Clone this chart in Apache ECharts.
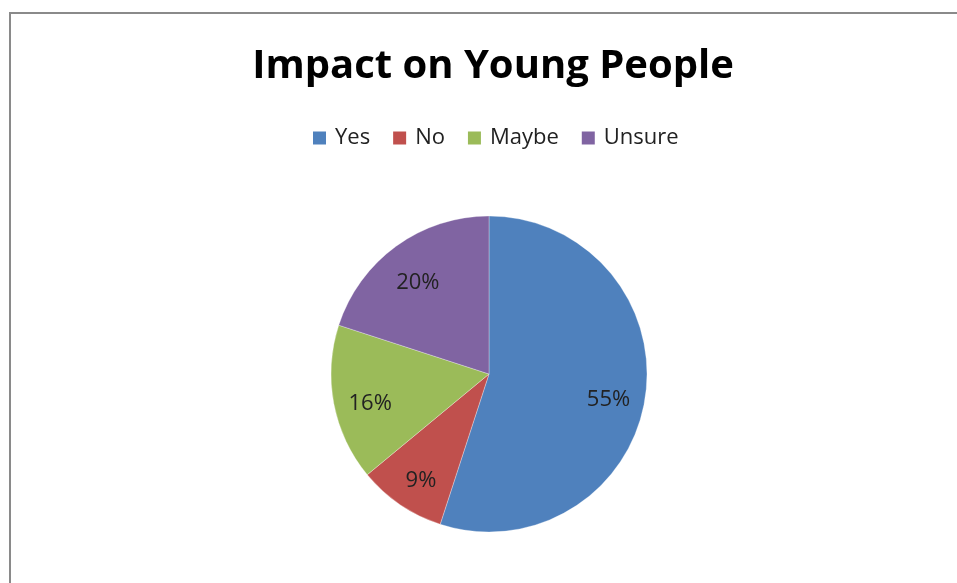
<!DOCTYPE html>
<html>
<head>
<meta charset="utf-8">
<script src="https://cdn.jsdelivr.net/npm/echarts@6/dist/echarts.min.js"></script>
<style>
html,body{margin:0;padding:0;background:#fff;}
#frame{position:absolute;left:9px;top:12px;width:960px;height:600px;border-left:2px solid #8a8a8a;border-top:2px solid #8a8a8a;box-sizing:border-box;}
#chart{position:absolute;left:0;top:0;width:957px;height:583px;}
</style>
</head>
<body>
<div id="frame"></div>
<div id="chart"></div>
<script>
const titleText = 'Impact on Young People';
const categories = ['Yes', 'No', 'Maybe', 'Unsure'];
const values = [55, 9, 16, 20];
const colors = ['#4F81BD', '#C0504D', '#9BBB59', '#8064A2'];

const chart = echarts.init(document.getElementById('chart'));
const data = categories.map((c, i) => ({ name: c, value: values[i], itemStyle: { color: colors[i] } }));
const labelData = categories.map((c, i) => ({ name: c, value: values[i] }));
const font = '"Open Sans", "Noto Sans", sans-serif';
chart.setOption({
  animation: false,
  title: {
    text: titleText, left: 488, top: 42, textAlign: 'center',
    textStyle: { fontFamily: font, fontSize: 40, fontWeight: 'bold', color: '#000' }
  },
  legend: {
    data: categories, top: 122, left: 308,
    icon: 'rect', itemWidth: 13, itemHeight: 13, itemGap: 23, itemStyle: { borderWidth: 0 },
    textStyle: { fontFamily: font, fontSize: 22, color: '#222', padding: [0, 0, 0, 4] }
  },
  series: [
    {
      type: 'pie', center: [489, 374], radius: 158, startAngle: 90, clockwise: true,
      label: { show: false }, labelLine: { show: false },
      itemStyle: { borderColor: 'rgba(255,255,255,0.6)', borderWidth: 0.5 },
      data: data, silent: true
    },
    {
      type: 'pie', center: [489, 374], radius: 236, startAngle: 90, clockwise: true,
      silent: true, legendHoverLink: false,
      itemStyle: { color: 'rgba(0,0,0,0)' },
      label: { show: true, position: 'inside', formatter: '{d}%', fontFamily: font, fontSize: 22, color: '#222', offset: [0, 7] },
      labelLine: { show: false },
      data: labelData
    }
  ]
});
</script>
</body>
</html>
